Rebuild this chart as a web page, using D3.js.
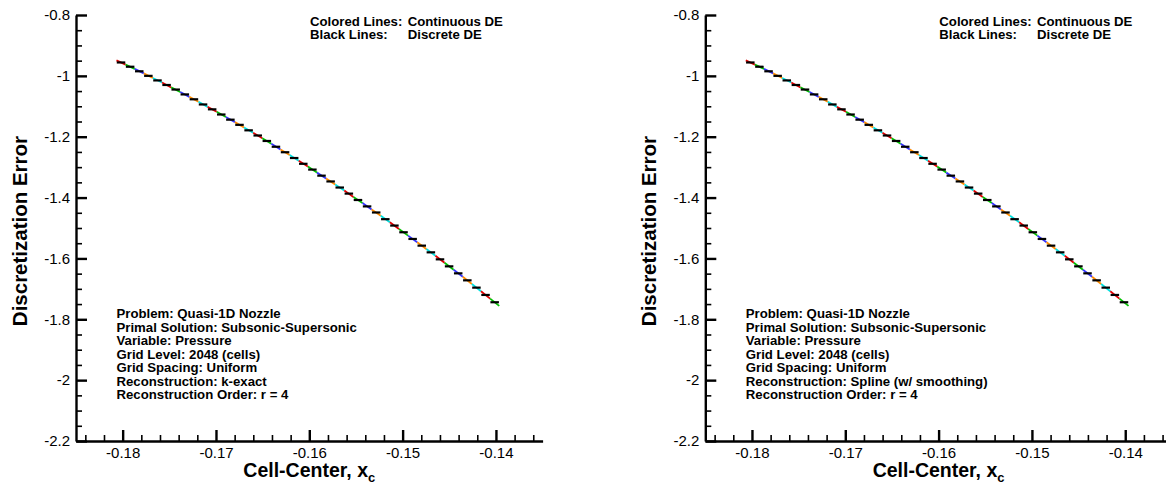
<!DOCTYPE html>
<html>
<head>
<meta charset="utf-8">
<script src="https://cdn.jsdelivr.net/npm/d3@7"></script>
<style>
  html, body { margin: 0; padding: 0; background: #fff; }
  svg { display: block; font-family: "Liberation Sans", Arial, Helvetica, sans-serif; }
</style>
</head>
<body>
<svg id="chart" width="1166" height="485"></svg>
<script>
// ---------------- data ----------------
// cell faces (x) of the displayed cells
const faceX = [-0.180664, -0.179688, -0.178711, -0.177734, -0.176758, -0.175781, -0.174805, -0.173828,
  -0.172852, -0.171875, -0.170898, -0.169922, -0.168945, -0.167969, -0.166992, -0.166016, -0.165039,
  -0.164063, -0.163086, -0.162109, -0.161133, -0.160156, -0.159180, -0.158203, -0.157227, -0.156250,
  -0.155273, -0.154297, -0.153320, -0.152344, -0.151367, -0.150391, -0.149414, -0.148438, -0.147461,
  -0.146484, -0.145508, -0.144531, -0.143555, -0.142578, -0.141602, -0.140625, -0.139648];
// continuous DE evaluated at the faces (coloured lines)
const continuousDE = [-0.949, -0.963, -0.977, -0.992, -1.007, -1.022, -1.038, -1.053, -1.069, -1.085,
  -1.102, -1.118, -1.135, -1.152, -1.170, -1.187, -1.205, -1.223, -1.242, -1.260, -1.279, -1.298,
  -1.318, -1.337, -1.357, -1.377, -1.398, -1.418, -1.439, -1.460, -1.481, -1.503, -1.525, -1.547,
  -1.569, -1.591, -1.614, -1.637, -1.660, -1.684, -1.708, -1.732, -1.756];
// discrete DE per cell (black lines)
const discreteDE = [-0.956, -0.970, -0.985, -1.000, -1.015, -1.030, -1.045, -1.061, -1.077, -1.094,
  -1.110, -1.127, -1.144, -1.161, -1.179, -1.196, -1.214, -1.233, -1.251, -1.270, -1.289, -1.308,
  -1.328, -1.347, -1.367, -1.387, -1.408, -1.429, -1.449, -1.471, -1.492, -1.514, -1.536, -1.558,
  -1.580, -1.603, -1.626, -1.649, -1.672, -1.696, -1.720, -1.744];
const cellColors = ["#e00000", "#00c000", "#3535ff", "#ff8c00", "#00e0e0"];

const xTicks = [-0.18, -0.17, -0.16, -0.15, -0.14];
const xTickLabels = ["-0.18", "-0.17", "-0.16", "-0.15", "-0.14"];
const yTicks = [-0.8, -1.0, -1.2, -1.4, -1.6, -1.8, -2.0, -2.2];
const yTickLabels = ["-0.8", "-1", "-1.2", "-1.4", "-1.6", "-1.8", "-2", "-2.2"];

const legendLines = [["Colored Lines:", "Continuous DE"], ["Black Lines:", "Discrete DE"]];
const infoLeft = ["Problem: Quasi-1D Nozzle", "Primal Solution: Subsonic-Supersonic", "Variable: Pressure",
  "Grid Level: 2048 (cells)", "Grid Spacing: Uniform", "Reconstruction: k-exact", "Reconstruction Order: r = 4"];
const infoRight = ["Problem: Quasi-1D Nozzle", "Primal Solution: Subsonic-Supersonic", "Variable: Pressure",
  "Grid Level: 2048 (cells)", "Grid Spacing: Uniform", "Reconstruction: Spline (w/ smoothing)", "Reconstruction Order: r = 4"];

// ---------------- drawing ----------------
const svg = d3.select("#chart");
const x = d3.scaleLinear().domain([-0.185, -0.135]).range([0, 466.6]);
const y = d3.scaleLinear().domain([-2.2, -0.8]).range([441, 15]);

const xMinor = d3.range(-0.184, -0.1349, 0.002).filter(v => !xTicks.some(t => Math.abs(t - v) < 1e-6));
const yMinor = d3.range(-2.15, -0.799, 0.05).filter(v => !yTicks.some(t => Math.abs(t - v) < 1e-6));

function drawPanel(offsetX, info) {
  const g = svg.append("g").attr("transform", `translate(${offsetX},0)`);

  // minor ticks
  g.append("g").attr("transform", `translate(0,${y(-2.2)})`)
    .call(d3.axisBottom(x).tickValues(xMinor).tickSize(-6).tickFormat(""))
    .call(a => a.select(".domain").remove())
    .call(a => a.selectAll("line").attr("stroke", "#000").attr("stroke-width", 1.6));
  g.append("g").attr("transform", `translate(${x(-0.185)},0)`)
    .call(d3.axisLeft(y).tickValues(yMinor).tickSize(-6).tickFormat(""))
    .call(a => a.select(".domain").remove())
    .call(a => a.selectAll("line").attr("stroke", "#000").attr("stroke-width", 1.6));

  // major axes
  const xa = g.append("g").attr("transform", `translate(0,${y(-2.2)})`)
    .call(d3.axisBottom(x).tickValues(xTicks).tickSizeInner(-11).tickSizeOuter(0).tickPadding(6)
      .tickFormat((d, i) => xTickLabels[i]));
  const ya = g.append("g").attr("transform", `translate(${x(-0.185)},0)`)
    .call(d3.axisLeft(y).tickValues(yTicks).tickSizeInner(-11).tickSizeOuter(0).tickPadding(6)
      .tickFormat((d, i) => yTickLabels[i]));
  [xa, ya].forEach(a => {
    a.select(".domain").attr("stroke", "#000").attr("stroke-width", 2.4);
    a.selectAll(".tick line").attr("stroke", "#000").attr("stroke-width", 2.4);
    a.selectAll(".tick text").attr("font-size", 15).attr("fill", "#000")
      .attr("font-family", "'Liberation Sans', Arial, sans-serif");
  });

  // axis titles
  const xt = g.append("text").attr("x", x(-0.16)).attr("y", 477).attr("text-anchor", "middle")
    .attr("font-size", 19.5).attr("font-weight", "bold");
  xt.append("tspan").text("Cell-Center, x");
  xt.append("tspan").attr("font-size", 13).attr("dy", 5).text("c");
  g.append("text").attr("transform", `translate(${x(-0.185) - 49},${y(-1.51)}) rotate(-90)`)
    .attr("text-anchor", "middle").attr("font-size", 20.5).attr("font-weight", "bold")
    .text("Discretization Error");

  // continuous DE (coloured), one segment per cell
  const cells = d3.range(discreteDE.length);
  g.append("g").selectAll("line").data(cells).join("line")
    .attr("x1", i => x(faceX[i])).attr("y1", i => y(continuousDE[i]))
    .attr("x2", i => x(faceX[i + 1])).attr("y2", i => y(continuousDE[i + 1]))
    .attr("stroke", i => cellColors[i % cellColors.length]).attr("stroke-width", 1.8);

  // discrete DE (black), horizontal per cell
  g.append("g").selectAll("line").data(cells).join("line")
    .attr("x1", i => x(faceX[i]) + 0.3).attr("x2", i => x(faceX[i + 1]) - 0.3)
    .attr("y1", i => y(discreteDE[i])).attr("y2", i => y(discreteDE[i]))
    .attr("stroke", "#000").attr("stroke-width", 2.2);

  // legend text
  const lg = g.append("g").attr("font-size", 13.2).attr("font-weight", "bold");
  legendLines.forEach((pair, i) => {
    lg.append("text").attr("x", 234).attr("y", 26 + i * 13.3).text(pair[0]);
    lg.append("text").attr("x", 331.7).attr("y", 26 + i * 13.3).text(pair[1]);
  });

  // info text
  const ig = g.append("g").attr("font-size", 13.2).attr("font-weight", "bold");
  info.forEach((t, i) => {
    ig.append("text").attr("x", 40.5).attr("y", 318 + i * 13.55).text(t);
  });
}

drawPanel(76, infoLeft);
drawPanel(76 + 629.3, infoRight);
</script>
</body>
</html>
